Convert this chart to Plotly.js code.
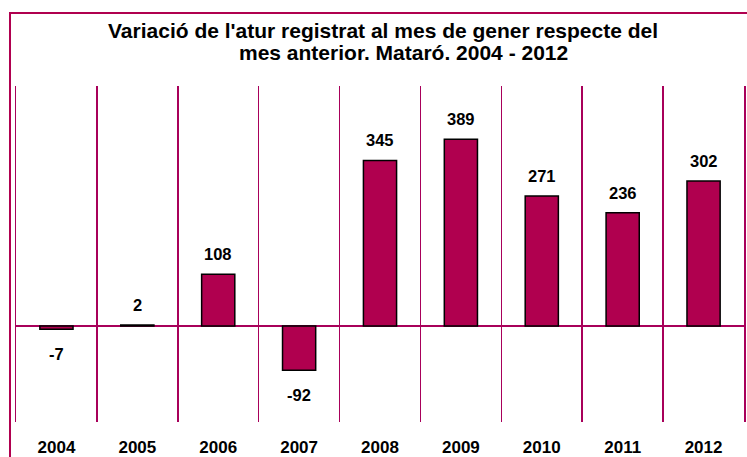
<!DOCTYPE html>
<html>
<head>
<meta charset="utf-8">
<script src="https://cdn.plot.ly/plotly-3.0.1.min.js"></script>
<style>
  html, body { margin: 0; padding: 0; background: #fff; overflow: hidden; }
  #chart { width: 747px; height: 457px; }
  #frame { position: absolute; left: 9px; top: 12px; width: 800px; height: 500px;
           border: 2px solid #B0004F; pointer-events: none; box-sizing: border-box; }
</style>
</head>
<body>
<div id="chart"></div>
<div id="frame"></div>
<script>
const years = ['2004', '2005', '2006', '2007', '2008', '2009', '2010', '2011', '2012'];
const values = [-7, 2, 108, -92, 345, 389, 271, 236, 302];
const titleLine1 = "Variació de l'atur registrat al mes de gener respecte del";
const titleLine2 = "mes anterior. Mataró. 2004 - 2012";

const crimson = '#B0004F';
const gridColor = '#A8005A';
const fontFamily = 'Liberation Sans, Arial, sans-serif';

const W = 747, H = 457;
const L = 16, R = 3, T = 86, B = 35;
const pw = W - L - R, ph = H - T - B;
const px = x => (x - L) / pw;
const py = y => (H - B - y) / ph;

const labelAnnots = years.map((yr, i) => ({
  x: i, y: values[i], xref: 'x', yref: 'y',
  text: '<b>' + values[i] + '</b>',
  showarrow: false,
  yanchor: values[i] >= 0 ? 'bottom' : 'top',
  yshift: values[i] >= 0 ? 9 : -14,
  font: { family: fontFamily, size: 16.5, color: '#000' }
}));

const titleAnnots = [
  { text: '<b>' + titleLine1 + '</b>', x: px(382.5), y: py(31), xref: 'paper', yref: 'paper',
    showarrow: false, xanchor: 'center', yanchor: 'middle',
    font: { family: fontFamily, size: 21, color: '#000' } },
  { text: '<b>' + titleLine2 + '</b>', x: px(403), y: py(53), xref: 'paper', yref: 'paper',
    showarrow: false, xanchor: 'center', yanchor: 'middle',
    font: { family: fontFamily, size: 21, color: '#000' } }
];

const trace = {
  type: 'bar',
  x: years,
  y: values,
  width: 0.41,
  marker: { color: crimson, line: { color: '#000', width: 1.5 } },
  hoverinfo: 'x+y'
};

const layout = {
  width: W, height: H,
  margin: { l: L, r: R, t: T, b: B, pad: 0 },
  paper_bgcolor: '#fff',
  plot_bgcolor: '#fff',
  showlegend: false,
  xaxis: {
    type: 'category',
    range: [-0.5, years.length - 0.5],
    tickson: 'boundaries',
    showgrid: true, gridcolor: gridColor, gridwidth: 1.5,
    ticks: '', showline: false, zeroline: false,
    ticklabelstandoff: 13,
    tickfont: { family: fontFamily, size: 17, color: '#000', weight: 'bold' },
    fixedrange: true
  },
  yaxis: {
    range: [-200, 500],
    showgrid: false, showticklabels: false, ticks: '',
    zeroline: true, zerolinecolor: gridColor, zerolinewidth: 1.5,
    showline: true, mirror: true, linecolor: gridColor, linewidth: 1.5,
    fixedrange: true
  },
  annotations: titleAnnots.concat(labelAnnots)
};

Plotly.newPlot('chart', [trace], layout, { displayModeBar: false, staticPlot: true });
</script>
</body>
</html>
